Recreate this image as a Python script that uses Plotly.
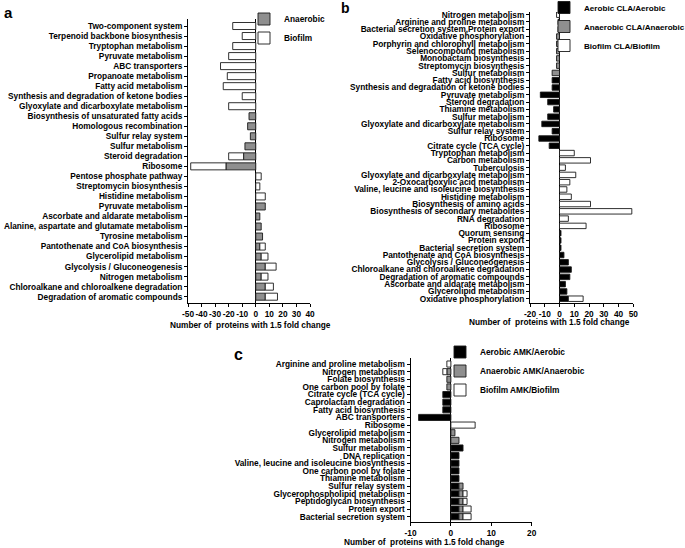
import plotly.graph_objects as go

W, H = 685, 548

# ---------------- Panel a ----------------
a_labels = [
    "Two-component system", "Terpenoid backbone biosynthesis", "Tryptophan metabolism",
    "Pyruvate metabolism", "ABC transporters", "Propanoate metabolism", "Fatty acid metabolism",
    "Synthesis and degradation of ketone bodies", "Glyoxylate and dicarboxylate metabolism",
    "Biosynthesis of unsaturated fatty acids", "Homologous recombination", "Sulfur relay system",
    "Sulfur metabolism", "Steroid degradation", "Ribosome", "Pentose phosphate pathway",
    "Streptomycin biosynthesis", "Histidine metabolism", "Pyruvate metabolism",
    "Ascorbate and aldarate metabolism", "Alanine, aspartate and glutamate metabolism",
    "Tyrosine metabolism", "Pantothenate and CoA biosynthesis", "Glycerolipid metabolism",
    "Glycolysis / Gluconeogenesis", "Nitrogen metabolism",
    "Chloroalkane and chloroalkene degradation", "Degradation of aromatic compounds",
]
a_anaerobic = [None, None, None, None, None, None, None, None, None,
               -5, -6, -4, -8, -9, -22,
               None, None, None, 7, 3, 4, 5, 3, 4, 7, 4, 7, 7]
a_biofilm = [-17, -10, -17, -20, -26, -21, -24, -10, -20,
             None, None, None, None, -11, -26,
             4, 3, 7, None, None, None, None, 4, 5, 8, 5, 6, 9]
a_ticks = [-50, -40, -30, -20, -10, 0, 10, 20, 30, 40]

# ---------------- Panel b ----------------
b_labels = [
    "Nitrogen metabolism", "Arginine and proline metabolism",
    "Bacterial secretion system,Protein export", "Oxidative phosphorylation",
    "Porphyrin and chlorophyll metabolism", "Selenocompound metabolism",
    "Monobactam biosynthesis", "Streptomycin biosynthesis", "Sulfur metabolism",
    "Fatty acid biosynthesis", "Synthesis and degradation of ketone bodies",
    "Pyruvate metabolism", "Steroid degradation", "Thiamine metabolism", "Sulfur metabolism",
    "Glyoxylate and dicarboxylate metabolism", "Sulfur relay system", "Ribosome",
    "Citrate cycle (TCA cycle)", "Tryptophan metabolism", "Carbon metabolism", "Tuberculosis",
    "Glyoxylate and dicarboxylate metabolism", "2-Oxocarboxylic acid metabolism",
    "Valine, leucine and isoleucine biosynthesis", "Histidine metabolism",
    "Biosynthesis of amino acids", "Biosynthesis of secondary metabolites", "RNA degradation",
    "Ribosome", "Quorum sensing", "Protein export", "Bacterial secretion system",
    "Pantothenate and CoA biosynthesis", "Glycolysis / Gluconeogenesis",
    "Chloroalkane and chloroalkene degradation", "Degradation of aromatic compounds",
    "Ascorbate and aldarate metabolism", "Glycerolipid metabolism", "Oxidative phosphorylation",
]
b_aerobic = [None, -1, -1, None, None, None, None, None, None,
             -5, -5, -13, -8, -4, -8, -12, -5, -14, -7,
             None, None, None, None, None, None, None, None, None, None, None,
             1, 1, 1, 3, 6, 8, 7, 4, 5, 6]
b_anaerobic = [None, None, None, -2, -2, -2, -2, -2, -5,
               None, None, None, None, None, None, None, None, None, None,
               None, None, None, None, None, None, None, None, None, None, None,
               None, None, None, None, None, None, None, None, None, None]
b_biofilm = [-2, None, None, None, None, None, None, None, None,
             None, None, None, None, None, None, None, None, None, None,
             10, 21, 4, 11, 7, 5, 8, 21, 49, 6, 18,
             None, None, None, None, None, None, None, None, None, 10]
b_ticks = [-20, -10, 0, 10, 20, 30, 40, 50]

# ---------------- Panel c ----------------
c_labels = [
    "Arginine and proline metabolism", "Nitrogen metabolism", "Folate biosynthesis",
    "One carbon pool by folate", "Citrate cycle (TCA cycle)", "Caprolactam degradation",
    "Fatty acid biosynthesis", "ABC transporters", "Ribosome", "Glycerolipid metabolism",
    "Nitrogen metabolism", "Sulfur metabolism", "DNA replication",
    "Valine, leucine and isoleucine biosynthesis", "One carbon pool by folate",
    "Thiamine metabolism", "Sulfur relay system", "Glycerophospholipid metabolism",
    "Peptidoglycan biosynthesis", "Protein export", "Bacterial secretion system",
]
c_aerobic = [None, None, None, None, -2, -2, -2, -8, None, None, None,
             3, 2, 2, 2, 2, 2, 2, 2, 2, 2]
c_anaerobic = [None, -1, -1, -1, None, None, None, None, None, 1, 2,
               None, None, None, None, None, 1, 1, 1, 1, 1]
c_biofilm = [-1, -1, None, None, None, None, None, None, 6, None, None,
             None, None, None, None, None, None, 1, 1, 2, 2]
c_ticks = [-10, 0, 10, 20]

x_title = "Number of  proteins with 1.5 fold change"

# ---------------- styling ----------------
FONT = "Liberation Sans, Arial, sans-serif"
TF = dict(family=FONT, size=8.3, color="black", weight="bold")
BLACK, GRAY, WHITE = "#000000", "#8f8f8f", "#ffffff"
EDGE = "#1a1a1a"

fig = go.Figure()


def add_bar(name, values, color, n, xa, ya, legend, width):
    fig.add_trace(go.Bar(
        x=values, y=list(range(n)), orientation="h", name=name,
        marker=dict(color=color, line=dict(color=EDGE, width=0.9)),
        width=width, xaxis=xa, yaxis=ya, legend=legend,
    ))


add_bar("Anaerobic", a_anaerobic, GRAY, len(a_labels), "x", "y", "legend", 0.7)
add_bar("Biofilm", a_biofilm, WHITE, len(a_labels), "x", "y", "legend", 0.7)

add_bar("Aerobic CLA/Aerobic", b_aerobic, BLACK, len(b_labels), "x2", "y2", "legend2", 0.75)
add_bar("Anaerobic CLA/Anaerobic", b_anaerobic, GRAY, len(b_labels), "x2", "y2", "legend2", 0.75)
add_bar("Biofilm CLA/Biofilm", b_biofilm, WHITE, len(b_labels), "x2", "y2", "legend2", 0.75)

add_bar("Aerobic AMK/Aerobic", c_aerobic, BLACK, len(c_labels), "x3", "y3", "legend3", 0.8)
add_bar("Anaerobic AMK/Anaerobic", c_anaerobic, GRAY, len(c_labels), "x3", "y3", "legend3", 0.8)
add_bar("Biofilm AMK/Biofilm", c_biofilm, WHITE, len(c_labels), "x3", "y3", "legend3", 0.8)


def xax(domain_px, rng, ticks, anchor):
    return dict(domain=[domain_px[0] / W, domain_px[1] / W], range=rng, anchor=anchor,
                tickmode="array", tickvals=ticks, ticktext=[str(t) for t in ticks],
                tickangle=0, ticks="outside", ticklen=3,
                tickwidth=1, tickcolor="black", showline=True, linecolor="black",
                linewidth=1, zeroline=True, zerolinecolor="black", zerolinewidth=1,
                showgrid=False, tickfont=TF, fixedrange=True)


def yax(domain_px, rng, labels, anchor):
    return dict(domain=[1 - domain_px[1] / H, 1 - domain_px[0] / H], range=rng,
                anchor=anchor, tickmode="array", tickvals=list(range(len(labels))),
                ticktext=labels, ticks="outside", ticklen=3, tickwidth=1,
                tickcolor="black", showline=True, linecolor="black", linewidth=1,
                zeroline=False, showgrid=False, tickfont=TF, fixedrange=True)


def leg(x_px, y_px, size=8.3):
    return dict(x=x_px / W, y=1 - y_px / H, xanchor="left", yanchor="top",
                font=dict(family=FONT, size=size, color="black", weight="bold"),
                bgcolor="rgba(0,0,0,0)", traceorder="normal", itemwidth=30,
                tracegroupgap=0)


fig.update_layout(
    width=W, height=H,
    margin=dict(l=0, r=0, t=0, b=0, pad=0, autoexpand=False),
    paper_bgcolor="white", plot_bgcolor="white",
    barmode="relative", bargap=0.3,
    font=dict(family=FONT, color="black"),
    xaxis=xax((188, 310), [-50, 40], a_ticks, "y"),
    yaxis=yax((19, 303.3), [27.66, -0.70], a_labels, "x"),
    xaxis2=xax((530, 633.3), [-20, 50], b_ticks, "y2"),
    yaxis2=yax((12, 303.3), [39.63, -0.37], b_labels, "x2"),
    xaxis3=xax((410.5, 531.7), [-10, 20], c_ticks, "y3"),
    yaxis3=yax((358, 521.7), [20.66, -0.79], c_labels, "x3"),
    legend=leg(244, 4.5),
    legend2=leg(544, -7, 8.1),
    legend3=leg(440, 337.5),
    showlegend=True,
)

ann = [
    dict(text="a", x=2 / W, y=1 - 12.5 / H, xanchor="left", yanchor="middle",
         font=dict(family=FONT, size=15, weight="bold")),
    dict(text="b", x=339 / W, y=1 - 7.5 / H, xanchor="left", yanchor="middle",
         font=dict(family=FONT, size=14, weight="bold")),
    dict(text="c", x=232 / W, y=1 - 354 / H, xanchor="left", yanchor="middle",
         font=dict(family=FONT, size=16, weight="bold")),
    dict(text=x_title, x=250 / W, y=1 - 324.5 / H, xanchor="center", yanchor="middle",
         font=TF),
    dict(text=x_title, x=549 / W, y=1 - 322 / H, xanchor="center", yanchor="middle",
         font=TF),
    dict(text=x_title, x=424.5 / W, y=1 - 541.7 / H, xanchor="center", yanchor="middle",
         font=TF),
]
for a in ann:
    a.update(xref="paper", yref="paper", showarrow=False)
fig.update_layout(annotations=ann)

fig.write_html(
    "out.html",
    config={"displayModeBar": False},
    post_script="document.body.style.margin='0';document.body.style.overflow='hidden';",
)
